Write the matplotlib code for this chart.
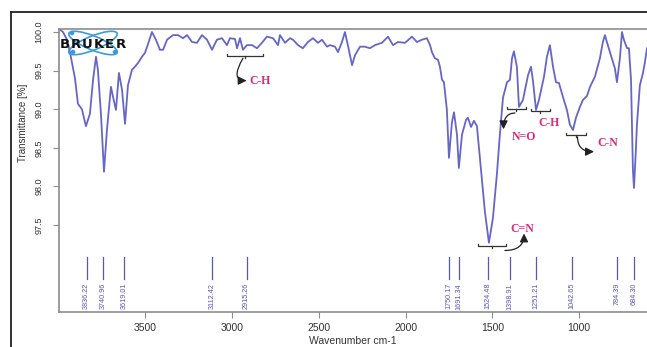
import matplotlib
matplotlib.use("Agg")
import matplotlib.pyplot as plt
from matplotlib.patches import Ellipse, Circle
from matplotlib.lines import Line2D
from matplotlib.transforms import IdentityTransform

# ---------------- data ----------------
wavenumber = [3995, 3972, 3949, 3932, 3903, 3886, 3863, 3840, 3817, 3799,
              3782, 3771, 3753, 3736, 3719, 3696, 3684, 3667, 3650, 3632,
              3615, 3598, 3575, 3558, 3540, 3517, 3500, 3483, 3460, 3437,
              3414, 3396, 3373, 3339, 3310, 3281, 3258, 3229, 3201, 3172,
              3143, 3114, 3086, 3057, 3028, 3011, 2982, 2970, 2953, 2936,
              2913, 2884, 2855, 2827, 2798, 2763, 2734, 2723, 2694, 2665,
              2648, 2619, 2591, 2562, 2533, 2504, 2481, 2452, 2435, 2406,
              2389, 2366, 2349, 2332, 2308, 2291, 2262, 2234, 2205, 2176,
              2136, 2101, 2072, 2044, 2003, 1963, 1934, 1906, 1877, 1859,
              1848, 1831, 1813, 1802, 1790, 1779, 1762, 1750, 1733, 1721,
              1704, 1693, 1675, 1652, 1641, 1623, 1606, 1589, 1572, 1543,
              1520, 1497, 1474, 1457, 1439, 1416, 1399, 1387, 1376, 1359,
              1347, 1324, 1295, 1278, 1267, 1249, 1232, 1203, 1186, 1169,
              1151, 1134, 1117, 1094, 1071, 1054, 1036, 1019, 996, 979,
              956, 938, 910, 881, 864, 852, 841, 818, 795, 783,
              766, 754, 743, 725, 714, 702, 691, 685, 674, 668,
              651, 633, 622, 610]
transmittance = [100.04, 100.00, 99.90, 99.74, 99.40, 99.07, 99.00, 98.78, 98.94, 99.38,
                 99.68, 99.51, 98.92, 98.19, 98.73, 99.29, 99.16, 98.99, 99.47, 99.25,
                 98.81, 99.31, 99.51, 99.55, 99.60, 99.68, 99.73, 99.84, 100.00, 99.90,
                 99.77, 99.77, 99.90, 99.96, 99.96, 99.92, 99.96, 99.87, 99.86, 99.96,
                 99.90, 99.77, 99.90, 99.92, 99.83, 99.92, 99.91, 99.79, 99.92, 99.77,
                 99.83, 99.83, 99.79, 99.86, 99.94, 99.92, 99.83, 99.96, 99.86, 99.92,
                 99.90, 99.83, 99.79, 99.87, 99.92, 99.86, 99.90, 99.81, 99.83, 99.81,
                 99.74, 99.87, 100.00, 99.83, 99.57, 99.70, 99.81, 99.81, 99.79, 99.83,
                 99.86, 99.94, 99.83, 99.87, 99.86, 99.94, 99.87, 99.90, 99.92, 99.83,
                 99.74, 99.66, 99.64, 99.55, 99.38, 99.35, 98.99, 98.37, 98.83, 98.96,
                 98.67, 98.24, 98.67, 98.86, 98.89, 98.77, 98.85, 98.78, 98.37, 97.67,
                 97.27, 97.59, 98.16, 98.67, 99.15, 99.35, 99.38, 99.66, 99.75, 99.55,
                 99.03, 99.12, 99.44, 99.55, 99.38, 98.99, 99.12, 99.42, 99.68, 99.83,
                 99.55, 99.35, 99.34, 99.16, 98.99, 98.80, 98.73, 98.89, 99.03, 99.12,
                 99.17, 99.29, 99.42, 99.66, 99.87, 99.96, 99.87, 99.70, 99.53, 99.35,
                 99.66, 100.00, 99.90, 99.79, 99.79, 99.38, 98.21, 97.98, 98.47, 98.80,
                 99.31, 99.47, 99.61, 99.79]

peak_labels = ["3836.22", "3740.96", "3619.01", "3112.42", "2915.26", "1750.17",
               "1691.34", "1524.48", "1398.91", "1251.21", "1042.65", "784.39", "684.30"]
peak_positions = [3836.22, 3740.96, 3619.01, 3112.42, 2915.26, 1750.17,
                  1691.34, 1524.48, 1398.91, 1251.21, 1042.65, 784.39, 684.30]

x_ticks = [1000, 1500, 2000, 2500, 3000, 3500]
y_ticks = [97.5, 98.0, 98.5, 99.0, 99.5, 100.0]

# annotation groups: label, bracket (x0, x1, y), arrow (start, end, connection) or None, text pos
annotations = [
    ("C-H", (3028, 2821, 99.69), ((2936, 99.66), (2915, 99.37), "angle3,angleA=60,angleB=0"),
     (2901, 99.37, "left")),
    ("N=O", (1416, 1307, 99.00), ((1370, 98.95), (1436, 98.74), "angle3,angleA=0,angleB=90"),
     (1318, 98.64, "center")),
    ("C-H", (1278, 1169, 98.98), None, (1172, 98.82, "center")),
    ("C-N", (1076, 961, 98.67), ((1010, 98.64), (915, 98.45), "angle3,angleA=90,angleB=0"),
     (898, 98.56, "left")),
    ("C=N", (1583, 1422, 97.23), ((1428, 97.17), (1318, 97.39), "angle3,angleA=0,angleB=90"),
     (1330, 97.45, "center")),
]

# ---------------- figure ----------------
W, H = 647, 347
fig = plt.figure(figsize=(W / 100, H / 100), dpi=100)
ax = fig.add_axes([59 / W, (H - 312) / H, (W - 59) / W, (312 - 29) / H])

line_color = "#6666c8"
label_color = "#5858b8"
spine_color = "#8c8c8c"
anno_color = "#dc2a78"

ax.plot(wavenumber, transmittance, color=line_color, lw=1.3, solid_joinstyle="round")

ax.set_xlim(3995, 610)
ax.set_ylim(96.373, 100.039)

for pos, lab in zip(peak_positions, peak_labels):
    ax.plot([pos, pos], [96.80, 97.08], color=label_color, lw=0.9)
    ax.text(pos, 96.75, lab, rotation=90, ha="center", va="top",
            fontsize=5.2, color=label_color, family="Liberation Sans")

for lab, (bx0, bx1, by), arrow, (tx, ty, tha) in annotations:
    tick = 0.025
    ax.plot([bx0, bx0, bx1, bx1], [by + tick, by, by, by + tick], color="#333333", lw=0.9)
    mid = (bx0 + bx1) / 2
    ax.plot([mid, mid], [by, by - tick], color="#333333", lw=0.9)
    if arrow is not None:
        (sx, sy), (ex, ey), conn = arrow
        ax.annotate("", xy=(ex, ey), xytext=(sx, sy),
                    arrowprops=dict(arrowstyle="-|>,head_length=0.5,head_width=0.25",
                                    color="#222222", lw=0.9, shrinkA=0, shrinkB=0,
                                    connectionstyle=conn))
    ax.text(tx, ty, lab, ha=tha, va="center", fontsize=8.5, color=anno_color,
            family="Liberation Serif", fontweight="bold")

ax.set_xticks(x_ticks)
ax.set_xticklabels([str(t) for t in x_ticks], fontsize=7.5, color="#333333",
                   family="Liberation Sans")
ax.set_yticks(y_ticks)
ax.set_yticklabels([f"{t:.1f}" for t in y_ticks], fontsize=6.5, color="#333333",
                   rotation=90, va="center", family="Liberation Sans")
ax.tick_params(axis="both", length=4, width=0.8, color=spine_color)
ax.tick_params(axis="x", pad=4)
ax.tick_params(axis="y", pad=7)

for s in ["left", "top", "bottom"]:
    ax.spines[s].set_color(spine_color)
    ax.spines[s].set_linewidth(1.2)
ax.spines["right"].set_visible(False)

fig.text(353 / W, (H - 341) / H, "Wavenumber cm-1", ha="center", va="center",
         fontsize=7.5, color="#333333", family="Liberation Sans")
fig.text(23 / W, (H - 123) / H, "Transmittance [%]", ha="center", va="center",
         rotation=90, fontsize=7, color="#333333", family="Liberation Sans")

# outer frame
fig.add_artist(Line2D([11 / W, 1.0], [(H - 12) / H, (H - 12) / H],
                      transform=fig.transFigure, color="#222222", lw=1.3))
fig.add_artist(Line2D([11 / W, 11 / W], [(H - 12) / H, 0],
                      transform=fig.transFigure, color="#222222", lw=1.3))

# Bruker logo
logo_blue = "#3d9ad6"
cx, cy = 93, H - 43
for ang in (22, -22):
    fig.add_artist(Ellipse((cx, cy), 52, 14, angle=ang, transform=IdentityTransform(),
                           fill=False, ec=logo_blue, lw=1.2))
for dx, dy in ((-21, 10), (22, -9), (-20, -9)):
    fig.add_artist(Circle((cx + dx, cy + dy), 1.6, transform=IdentityTransform(),
                          color=logo_blue))
for i, ch in enumerate("BRUKER"):
    fig.text((65 + i * 11.2) / W, (H - 44) / H, ch, ha="center", va="center",
             fontsize=9.5, fontweight="bold", color="#111111", family="DejaVu Sans")

fig.savefig("out.png", dpi=100)
